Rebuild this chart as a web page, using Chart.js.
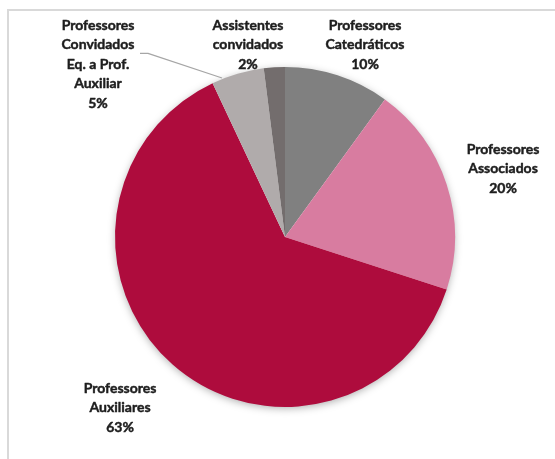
<!DOCTYPE html>
<html>
<head>
<meta charset="utf-8">
<script src="https://cdn.jsdelivr.net/npm/chart.js@4/dist/chart.umd.min.js"></script>
<style>
  html, body { margin: 0; padding: 0; background: #ffffff; overflow: hidden; }
  #wrap { position: relative; width: 555px; height: 459px; }
  #frame { position: absolute; left: 7px; top: 9px; width: 600px; height: 500px; border: 2px solid #d9d9d9; box-sizing: border-box; }
  canvas { position: absolute; left: 0; top: 0; }
</style>
</head>
<body>
<div id="wrap">
  <div id="frame"></div>
  <canvas id="c" width="555" height="459"></canvas>
</div>
<script>
const categories = ["Professores Catedráticos", "Professores Associados", "Professores Auxiliares", "Professores Convidados Eq. a Prof. Auxiliar", "Assistentes convidados"];
const labelLines = [["Professores", "Catedráticos"], ["Professores", "Associados"], ["Professores", "Auxiliares"], ["Professores", "Convidados", "Eq. a Prof.", "Auxiliar"], ["Assistentes", "convidados"]];
const values = [10, 20, 63, 5, 2];
const sliceColors = ["#808080", "#d87ca0", "#ae0c3d", "#b0abab", "#736d6d"];

// label placement: offsets of the first text line centre from the pie centre (layout only)
const labelOffsets = [[80, -212], [218, -88], [-165, 151], [-187, -212], [-37, -212]];
const lineGap = 19.5;

const labelPlugin = {
  id: 'labels',
  beforeDatasetsDraw(chart) {
    const meta = chart.getDatasetMeta(0);
    const a = meta.data[0];
    const ctx = chart.ctx;
    ctx.save();
    ctx.beginPath();
    ctx.arc(a.x, a.y, a.outerRadius - 1, 0, Math.PI * 2);
    ctx.fillStyle = '#ffffff';
    ctx.shadowColor = 'rgba(0,0,0,0.35)';
    ctx.shadowBlur = 9;
    ctx.shadowOffsetX = 0;
    ctx.shadowOffsetY = 2;
    ctx.fill();
    ctx.restore();
  },
  afterDatasetsDraw(chart) {
    const meta = chart.getDatasetMeta(0);
    const ctx = chart.ctx;
    const total = values.reduce((s, v) => s + v, 0);
    const cx = meta.data[0].x, cy = meta.data[0].y;
    ctx.save();
    ctx.font = 'bold 14px Lato, "Open Sans", sans-serif';
    ctx.fillStyle = '#1e1e1e';
    ctx.strokeStyle = '#1e1e1e';
    ctx.lineWidth = 0.45;
    ctx.lineJoin = 'round';
    ctx.textAlign = 'center';
    ctx.textBaseline = 'middle';
    meta.data.forEach((arc, i) => {
      const lines = labelLines[i].concat([Math.round(values[i] / total * 100) + '%']);
      const x = cx + labelOffsets[i][0];
      const y0 = cy + labelOffsets[i][1];
      lines.forEach((t, k) => {
        ctx.fillText(t, x, y0 + k * lineGap);
        ctx.strokeText(t, x, y0 + k * lineGap);
      });
    });
    // leader line for the small "Convidados" slice
    const arc = meta.data[3];
    const ang = arc.startAngle + (arc.endAngle - arc.startAngle) * 0.2;
    const ex = cx + Math.cos(ang) * (arc.outerRadius + 1);
    const ey = cy + Math.sin(ang) * (arc.outerRadius + 1);
    const sx = cx + labelOffsets[3][0] + 42;
    const sy = cy + labelOffsets[3][1] + lineGap * 1.45;
    ctx.beginPath();
    ctx.moveTo(sx, sy);
    ctx.lineTo(sx + 8, sy);
    ctx.lineTo(ex, ey);
    ctx.strokeStyle = '#a6a6a6';
    ctx.lineWidth = 1.3;
    ctx.stroke();
    ctx.restore();
  }
};

new Chart(document.getElementById('c'), {
  type: 'pie',
  data: {
    labels: categories,
    datasets: [{
      data: values,
      backgroundColor: sliceColors,
      borderWidth: 0,
      hoverOffset: 0
    }]
  },
  options: {
    responsive: false,
    animation: false,
    events: [],
    layout: { padding: { left: 115, top: 67, right: 100, bottom: 52 } },
    plugins: { legend: { display: false }, tooltip: { enabled: false } }
  },
  plugins: [labelPlugin]
});
</script>
</body>
</html>
